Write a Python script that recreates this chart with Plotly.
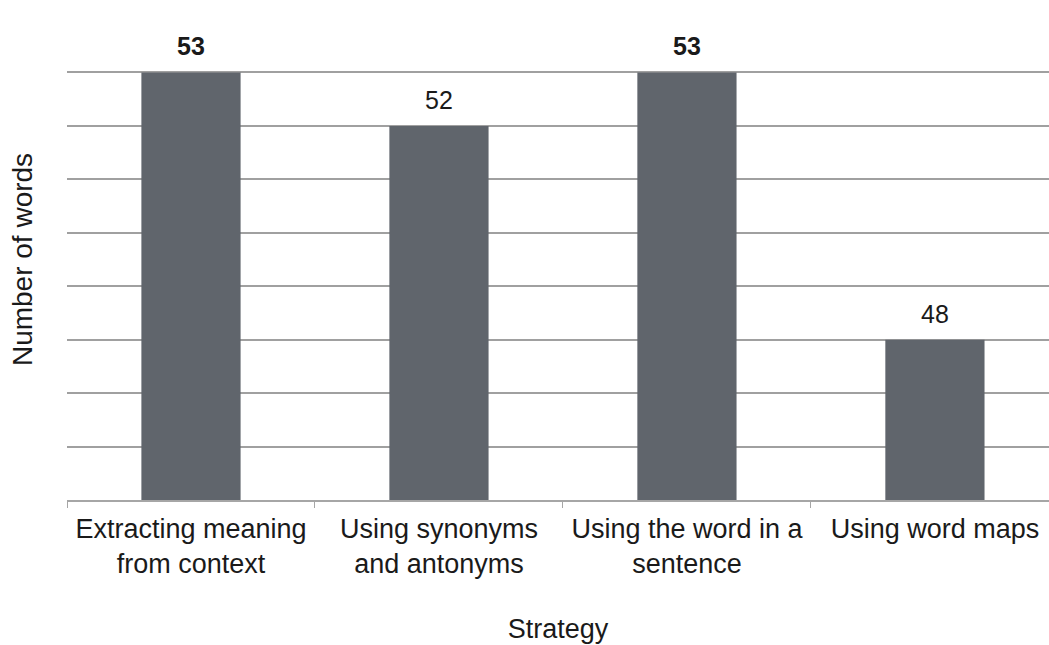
import plotly.graph_objects as go

categories = ["Extracting meaning<br>from context", "Using synonyms<br>and antonyms",
              "Using the word in a<br>sentence", "Using word maps"]
values = [53, 52, 53, 48]
labels = ["<b>53</b>", "52", "<b>53</b>", "48"]

FONT = "Liberation Sans, Arial, sans-serif"

fig = go.Figure()
fig.add_trace(go.Bar(x=categories, y=values, marker=dict(color="#60656c", line=dict(width=0)),
                     width=0.4, hoverinfo="skip"))

for c, v, t in zip(categories, values, labels):
    fig.add_annotation(x=c, y=v, text=t, showarrow=False, yanchor="bottom", yshift=10,
                       font=dict(family=FONT, size=25, color="#1a1a1a"))

fig.update_layout(
    width=1049, height=645,
    margin=dict(l=67, r=0, t=19, b=145),
    paper_bgcolor="white", plot_bgcolor="white",
    showlegend=False,
    font=dict(family=FONT, color="#1a1a1a"),
    xaxis=dict(
        range=[-0.5, 3.46],
        showline=True, linecolor="#a6a6a6", linewidth=1.5,
        ticks="outside", tickson="boundaries", ticklen=6, tickcolor="#a6a6a6",
        ticklabelstandoff=4,
        tickfont=dict(size=27, family=FONT, color="#1a1a1a"),
        title=dict(text="Strategy", font=dict(size=27, family=FONT, color="#1a1a1a"), standoff=41),
        showgrid=False,
    ),
    yaxis=dict(
        range=[45, 54], dtick=1, tick0=45,
        showticklabels=False, ticks="",
        showgrid=True, gridcolor="#a0a0a0", gridwidth=1.5,
        zeroline=False, showline=False,
        title=dict(text="Number of words", font=dict(size=28, family=FONT, color="#1a1a1a"), standoff=25),
    ),
)

fig.write_html("out.html")
